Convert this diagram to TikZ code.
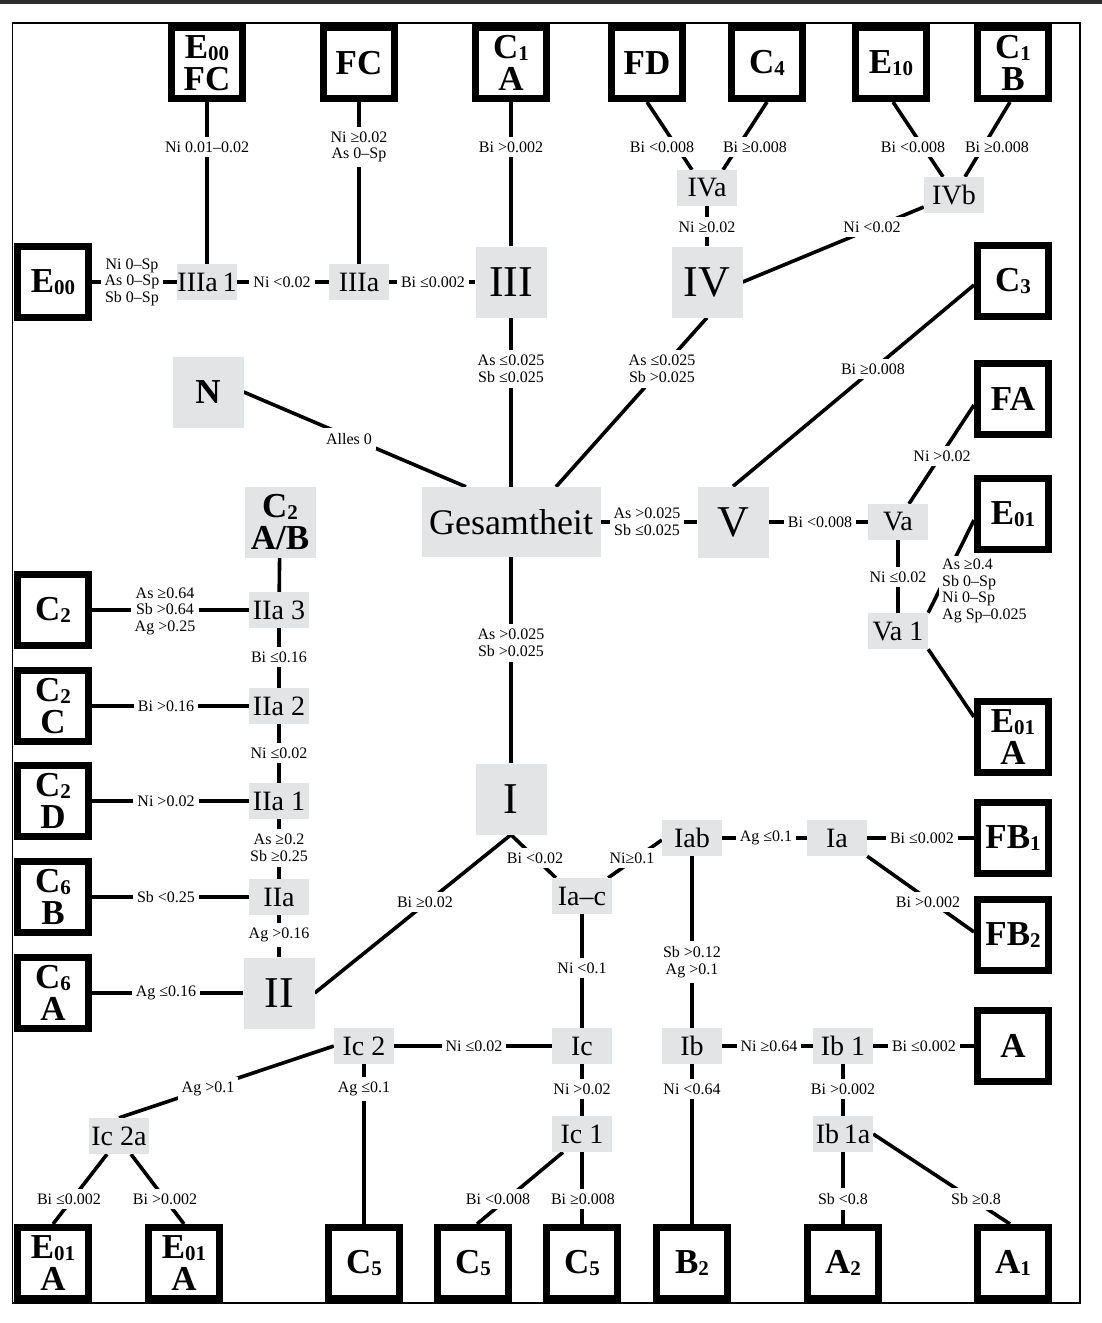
\documentclass[tikz,border=0pt]{standalone}
\usepackage{fontspec}
\setmainfont{Liberation Serif}
\usetikzlibrary{backgrounds}
\definecolor{ngray}{RGB}{227,228,230}
\definecolor{bandgray}{RGB}{45,45,45}
\newcommand{\sbs}[1]{{\fontsize{21}{21}\selectfont\raisebox{-2pt}{#1}}}
\tikzset{
 term/.style={draw=black, line width=7pt, fill=white, minimum size=71pt, inner sep=0pt, align=center, font=\bfseries\fontsize{35}{32}\selectfont},
 gs/.style={fill=ngray, minimum width=60pt, minimum height=36pt, inner sep=0pt, font=\fontsize{28}{28}\selectfont},
 gb/.style={fill=ngray, minimum size=71pt, inner sep=0pt, font=\fontsize{44}{44}\selectfont},
 gbold/.style={gb, align=center, font=\bfseries\fontsize{35}{32}\selectfont},
 conn/.style={line width=3.6pt},
 lbl/.style={fill=white, inner xsep=4pt, inner ysep=5pt, align=center, font=\fontsize{16}{16.5}\selectfont},
 frame/.style={line width=1.5pt},
}
\begin{document}
\begin{tikzpicture}[x=1pt,y=-1pt]
\useasboundingbox (0,0) rectangle (1102,1323);
% terminal boxes
\node[term] (tE00FC) at (207,63) {E\sbs{00}\\FC};
\node[term] (tFC) at (359,63) {FC};
\node[term] (tC1A) at (511,63) {C\sbs{1}\\A};
\node[term] (tFD) at (647,63) {FD};
\node[term] (tC4) at (767,63) {C\sbs{4}};
\node[term] (tE10) at (891,63) {E\sbs{10}};
\node[term] (tC1B) at (1013,63) {C\sbs{1}\\B};
\node[term] (tE00) at (53,282) {E\sbs{00}};
\node[term] (tC3) at (1013,281) {C\sbs{3}};
\node[term] (tFA) at (1013,399) {FA};
\node[term] (tE01) at (1013,514) {E\sbs{01}};
\node[term] (tE01A) at (1013,737) {E\sbs{01}\\A};
\node[term] (tFB1) at (1013,838) {FB\sbs{1}};
\node[term] (tFB2) at (1013,935) {FB\sbs{2}};
\node[term] (tA) at (1013,1046) {A};
\node[term] (tC2) at (53,610) {C\sbs{2}};
\node[term] (tC2C) at (53,706) {C\sbs{2}\\C};
\node[term] (tC2D) at (53,801) {C\sbs{2}\\D};
\node[term] (tC6B) at (53,897) {C\sbs{6}\\B};
\node[term] (tC6A) at (53,993) {C\sbs{6}\\A};
\node[term] (tE01Aa) at (53,1263) {E\sbs{01}\\A};
\node[term] (tE01Ab) at (184,1263) {E\sbs{01}\\A};
\node[term] (tC5a) at (364,1263) {C\sbs{5}};
\node[term] (tC5b) at (473,1263) {C\sbs{5}};
\node[term] (tC5c) at (582,1263) {C\sbs{5}};
\node[term] (tB2) at (692,1263) {B\sbs{2}};
\node[term] (tA2) at (843,1263) {A\sbs{2}};
\node[term] (tA1) at (1013,1263) {A\sbs{1}};
% gray nodes
\node[gs] (IIIa1) at (207,282) {IIIa\,1};
\node[gs] (IIIa) at (359,282) {IIIa};
\node[gb] (III) at (511,282) {III};
\node[gs] (IVa) at (707,188) {IVa};
\node[gs] (IVb) at (954,195) {IVb};
\node[gb] (IV) at (707,282) {IV};
\node[gbold] (N) at (208,392) {N};
\node[fill=ngray, minimum width=179pt, minimum height=70pt, inner sep=0pt, font=\fontsize{36}{36}\selectfont] (Gesamt) at (511,522) {Gesamtheit};
\node[gb] (V) at (733,522) {V};
\node[gs] (Va) at (898,522) {Va};
\node[gs] (Va1) at (898,631) {Va 1};
\node[gbold] (C2AB) at (280,522) {C\sbs{2}\\A/B};
\node[gs] (IIa3) at (279,610) {IIa 3};
\node[gs] (IIa2) at (279,706) {IIa 2};
\node[gs] (IIa1) at (279,801) {IIa 1};
\node[gs] (IIa) at (279,897) {IIa};
\node[gb] (II) at (279,993) {II};
\node[gb] (I) at (511,799) {I};
\node[gs] (Iac) at (582,896) {Ia--c};
\node[gs] (Iab) at (692,838) {Iab};
\node[gs] (Ia) at (837,838) {Ia};
\node[gs] (Ib) at (692,1046) {Ib};
\node[gs] (Ib1) at (843,1046) {Ib 1};
\node[gs] (Ib1a) at (843,1134) {Ib\,1a};
\node[gs] (Ic) at (582,1046) {Ic};
\node[gs] (Ic1) at (582,1134) {Ic 1};
\node[gs] (Ic2) at (364,1046) {Ic 2};
\node[gs] (Ic2a) at (119,1136) {Ic 2a};
\begin{pgfonlayer}{background}
\fill[bandgray] (0,0) rectangle (1102,4);
\draw[frame] (12.5,23) rectangle (1080,1303);
\draw[conn] (tE00FC) -- (IIIa1); \node[lbl] (l1) at (207,147) {Ni 0.01--0.02};
\draw[conn] (tFC) -- (IIIa); \node[lbl] (l2) at (359,147) {Ni ≥0.02\\As 0--Sp};
\draw[conn] (tC1A) -- (III); \node[lbl] (l3) at (511,147) {Bi >0.002};
\draw[conn] (tFD.south) -- ([xshift=-15pt]IVa.north); \node[lbl] (l4) at (662,147) {Bi <0.008};
\draw[conn] (tC4.south) -- ([xshift=16pt]IVa.north); \node[lbl] (l5) at (755,147) {Bi ≥0.008};
\draw[conn] ([xshift=2pt]tE10.south) -- ([xshift=-11pt]IVb.north); \node[lbl] (l6) at (913,147) {Bi <0.008};
\draw[conn] ([xshift=-3pt]tC1B.south) -- ([xshift=11pt]IVb.north); \node[lbl] (l7) at (997,147) {Bi ≥0.008};
\draw[conn] (IVa) -- (IV); \node[lbl] (l8) at (707,227) {Ni ≥0.02};
\draw[conn] ([yshift=-12pt]IVb.west) -- (IV.east); \node[lbl] (l9) at (872,227) {Ni <0.02};
\draw[conn] (tE00) -- (IIIa1); \node[lbl] (l10) at (132,282) {Ni 0--Sp\\As 0--Sp\\Sb 0--Sp};
\draw[conn] (IIIa1) -- (IIIa); \node[lbl] (l11) at (282,282) {Ni <0.02};
\draw[conn] (IIIa) -- (III); \node[lbl] (l12) at (433,282) {Bi ≤0.002};
\draw[conn] (III) -- (Gesamt); \node[lbl] (l13) at (511,369) {As ≤0.025\\Sb ≤0.025};
\draw[conn] (IV.south) -- ([xshift=45pt]Gesamt.north); \node[lbl] (l14) at (662,369) {As ≤0.025\\Sb >0.025};
\draw[conn] (N.east) -- ([xshift=-45pt]Gesamt.north); \node[lbl] (l15) at (349,439) {Alles 0};
\draw[conn] (V.north) -- ([yshift=-4pt]tC3.west); \node[lbl] (l16) at (873,369) {Bi ≥0.008};
\draw[conn] (Gesamt) -- (V); \node[lbl] (l17) at (647,522) {As >0.025\\Sb ≤0.025};
\draw[conn] (V) -- (Va); \node[lbl] (l18) at (820,522) {Bi <0.008};
\draw[conn] ([xshift=11pt]Va.north) -- ([yshift=-6pt]tFA.west); \node[lbl] (l19) at (942,456) {Ni >0.02};
\draw[conn] (Va) -- (Va1); \node[lbl] (l20) at (898,577) {Ni ≤0.02};
\draw[conn] (Va1.north east) -- ([yshift=-6pt]tE01.west); \node[lbl, align=left, anchor=west, inner xsep=3pt, inner ysep=3pt] (l21) at (939,591) {As ≥0.4\\Sb 0--Sp\\Ni 0--Sp\\Ag Sp--0.025};
\draw[conn] (Va1.south east) -- ([yshift=20pt]tE01A.west);
\draw[conn] (Gesamt) -- (I); \node[lbl] (l23) at (511,643) {As >0.025\\Sb >0.025};
\draw[conn] (IIa3) -- (C2AB);
\draw[conn] (IIa3) -- (tC2); \node[lbl] (l25) at (165,611) {As ≥0.64\\Sb >0.64\\Ag >0.25};
\draw[conn] (IIa3) -- (IIa2); \node[lbl] (l26) at (279,657) {Bi ≤0.16};
\draw[conn] (IIa2) -- (tC2C); \node[lbl] (l27) at (166,706) {Bi >0.16};
\draw[conn] (IIa2) -- (IIa1); \node[lbl] (l28) at (279,753) {Ni ≤0.02};
\draw[conn] (IIa1) -- (tC2D); \node[lbl] (l29) at (166,801) {Ni >0.02};
\draw[conn] (IIa1) -- (IIa); \node[lbl] (l30) at (279,848) {As ≥0.2\\Sb ≥0.25};
\draw[conn] (IIa) -- (tC6B); \node[lbl] (l31) at (166,897) {Sb <0.25};
\draw[conn] (IIa) -- (II); \node[lbl] (l32) at (279,935) {Ag >0.16};
\draw[conn] (II) -- (tC6A); \node[lbl] (l33) at (166,993) {Ag ≤0.16};
\draw[conn] (II.east) -- (I.south); \node[lbl] (l34) at (425,902) {Bi ≥0.02};
\draw[conn] (I.south) -- ([xshift=4pt]Iac.north west); \node[lbl] (l35) at (535,858) {Bi <0.02};
\draw[conn] ([xshift=-4pt]Iac.north east) -- ([yshift=-2pt]Iab.west); \node[lbl] (l36) at (632,858) {Ni≥0.1};
\draw[conn] (Iab) -- (Ia); \node[lbl] (l37) at (766,838) {Ag ≤0.1};
\draw[conn] (Ia) -- (tFB1); \node[lbl] (l38) at (922,838) {Bi ≤0.002};
\draw[conn] (Ia.south east) -- ([yshift=3pt]tFB2.west); \node[lbl] (l39) at (928,902) {Bi >0.002};
\draw[conn] (Iab) -- (Ib); \node[lbl] (l40) at (692,962) {Sb >0.12\\Ag >0.1};
\draw[conn] (Iac) -- (Ic); \node[lbl] (l41) at (582,968) {Ni <0.1};
\draw[conn] (Ic) -- (Ic2); \node[lbl] (l42) at (474,1046) {Ni ≤0.02};
\draw[conn] (Ic) -- (Ic1); \node[lbl] (l43) at (582,1089) {Ni >0.02};
\draw[conn] (Ib) -- (Ib1); \node[lbl] (l44) at (769,1046) {Ni ≥0.64};
\draw[conn] (Ib1) -- (tA); \node[lbl] (l45) at (924,1046) {Bi ≤0.002};
\draw[conn] (Ib) -- (tB2); \node[lbl] (l46) at (692,1089) {Ni <0.64};
\draw[conn] (Ib1) -- (Ib1a); \node[lbl] (l47) at (843,1089) {Bi >0.002};
\draw[conn] (Ic2.west) -- (Ic2a.north); \node[lbl] (l48) at (208,1089) {Ag >0.1};
\draw[conn] (Ic2) -- (tC5a); \node[lbl] (l49) at (364,1089) {Ag ≤0.1};
\draw[conn] ([xshift=-12pt]Ic2a.south) -- (tE01Aa.north); \node[lbl] (l50) at (69,1199) {Bi ≤0.002};
\draw[conn] ([xshift=12pt]Ic2a.south) -- (tE01Ab.north); \node[lbl] (l51) at (165,1199) {Bi >0.002};
\draw[conn] ([xshift=-19pt]Ic1.south) -- ([xshift=4pt]tC5b.north); \node[lbl] (l52) at (498,1199) {Bi <0.008};
\draw[conn] (Ic1) -- (tC5c); \node[lbl] (l53) at (583,1199) {Bi ≥0.008};
\draw[conn] (Ib1a) -- (tA2); \node[lbl] (l54) at (843,1199) {Sb <0.8};
\draw[conn] (Ib1a.east) -- ([xshift=-3pt]tA1.north); \node[lbl] (l55) at (976,1199) {Sb ≥0.8};
\end{pgfonlayer}
\end{tikzpicture}
\end{document}
